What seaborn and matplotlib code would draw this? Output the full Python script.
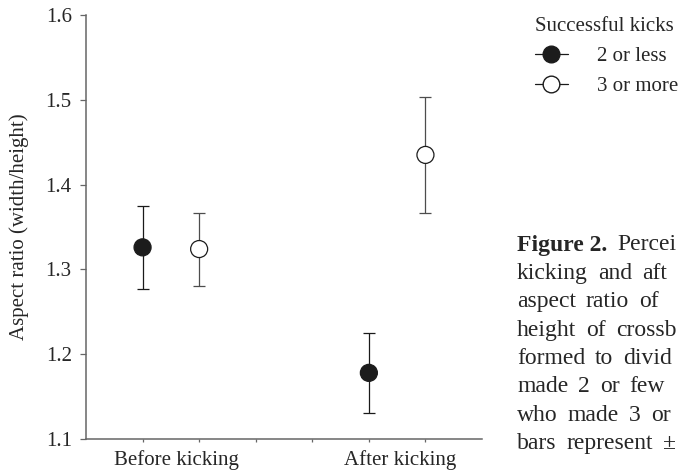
import matplotlib
matplotlib.use("Agg")
import matplotlib.pyplot as plt
from matplotlib.lines import Line2D
import numpy as np
import pandas as pd
import seaborn as sns

# Perceived aspect ratio of the goal, by kicking phase and kicking success
phases = ["Before kicking", "After kicking"]
series = ["2 or less", "3 or more"]
mean_2_or_less = [1.326, 1.178]
se_2_or_less = [0.049, 0.047]
mean_3_or_more = [1.324, 1.435]
se_3_or_more = [0.043, 0.068]
y_ticks = [1.1, 1.2, 1.3, 1.4, 1.5, 1.6]

# Caption block beside the plot; the first words are set in bold
caption_bold = "Figure 2."
caption_lines = [
    "Percei",
    "kicking and aft",
    "aspect ratio of",
    "height of crossb",
    "formed to divid",
    "made 2 or few",
    "who made 3 or",
    "bars represent \u00b1",
]

sns.set_style("ticks")
plt.rcParams["font.family"] = ["Liberation Serif", "DejaVu Serif"]
FS = 15
CAP_FS = 17

df = pd.DataFrame({
    "phase": phases * 2,
    "group": [series[0]] * 2 + [series[1]] * 2,
    "mean": mean_2_or_less + mean_3_or_more,
    "se": se_2_or_less + se_3_or_more,
})
phase_base = {p: 1 + 4 * i for i, p in enumerate(phases)}
group_offset = {series[0]: 0, series[1]: 1}
df["pos"] = df["phase"].map(phase_base) + df["group"].map(group_offset)

fig = plt.figure(figsize=(6.89, 4.74), dpi=100)
ax = fig.add_axes([0.1248, 0.0738, 0.5748, 0.8946])

bar_colors = {series[0]: "#1a1a1a", series[1]: "#4d4d4d"}
for g, sub in df.groupby("group"):
    ax.errorbar(sub["pos"], sub["mean"], yerr=sub["se"], fmt="none",
                ecolor=bar_colors[g], elinewidth=0.9, capsize=4.2,
                capthick=0.9, zorder=2)

sns.scatterplot(data=df, x="pos", y="mean", hue="group", style="group",
                palette={series[0]: "#1c1c1c", series[1]: "white"},
                markers={series[0]: "o", series[1]: "o"},
                s=150, edgecolor="#1c1c1c", linewidth=0.9,
                legend=False, zorder=3, ax=ax)

ax.set_xlim(0, 7)
ax.set_ylim(1.1, 1.6)
ax.set_yticks(y_ticks)
ax.set_yticklabels([f"{v:.1f}" for v in y_ticks])
ax.set_xticks([1.6, 5.55])
ax.set_xticklabels(phases)
ax.set_xticks(range(1, 7), minor=True)
ax.tick_params(axis="x", which="major", length=0, pad=8, labelsize=FS)
ax.tick_params(axis="x", which="minor", length=2.5, width=0.9, color="#666666")
ax.tick_params(axis="y", length=4.3, width=0.9, color="#666666", pad=6,
               labelsize=FS)
ax.set_xlabel("")
ax.set_ylabel("Aspect ratio (width/height)", fontsize=FS, labelpad=12)

for side in ["top", "right"]:
    ax.spines[side].set_visible(False)
for side in ["left", "bottom"]:
    ax.spines[side].set_color("#666666")
    ax.spines[side].set_linewidth(1.1)

handles = [
    Line2D([], [], color="#1a1a1a", lw=0.9, marker="o", markersize=12,
           markerfacecolor="#1c1c1c", markeredgecolor="#1c1c1c"),
    Line2D([], [], color="#1a1a1a", lw=0.9, marker="o", markersize=12,
           markerfacecolor="white", markeredgecolor="#1c1c1c"),
]
leg = fig.legend(handles, series, title="Successful kicks",
                 loc="upper left", bbox_to_anchor=(0.764, 0.982),
                 frameon=False, fontsize=FS, title_fontsize=FS,
                 handlelength=1.6, handletextpad=1.4, labelspacing=0.5,
                 alignment="left", borderaxespad=0)

# Justified-looking caption: words placed one after another with wide gaps
fig.canvas.draw()
renderer = fig.canvas.get_renderer()
W, H = fig.bbox.width, fig.bbox.height
x_start = 517.0
word_gap = 10.0
for i, line in enumerate(caption_lines):
    y = 1 - (245 + 28.4 * i) / H
    x = x_start
    words = line.split(" ")
    if i == 0:
        t = fig.text(x / W, y, caption_bold, fontsize=CAP_FS,
                     fontweight="bold", va="center")
        x = t.get_window_extent(renderer).x1 + word_gap
    for w in words:
        t = fig.text(x / W, y, w, fontsize=CAP_FS, va="center")
        x = t.get_window_extent(renderer).x1 + word_gap

fig.savefig("out.png", dpi=100)
